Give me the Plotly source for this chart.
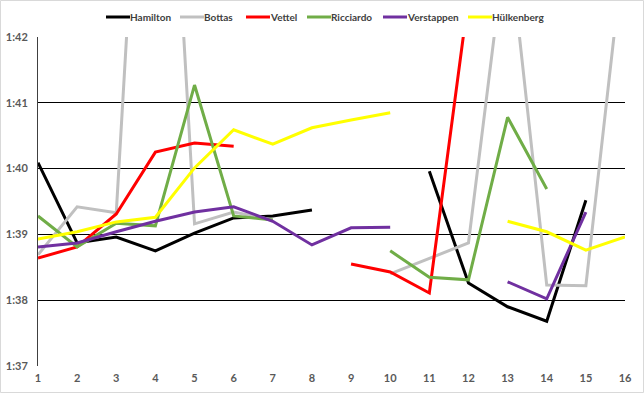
import plotly.graph_objects as go

laps = list(range(1, 17))
N = None
hamilton   = [100.09, 98.87, 98.96, 98.75, 99.02, 99.25, 99.28, 99.37, N, N, 99.96, 98.26, 97.90, 97.68, 99.52, N]
bottas     = [98.69, 99.42, 99.33, 109.5, 99.16, 99.34, 99.22, N, N, 98.40, 98.64, 98.87, 103.65, 98.23, 98.22, 103.5]
vettel     = [98.64, 98.81, 99.31, 100.25, 100.39, 100.34, N, N, 98.55, 98.43, 98.11, 102.6, N, N, N, N]
ricciardo  = [99.28, 98.81, 99.17, 99.13, 101.27, 99.28, 99.22, N, N, 98.75, 98.35, 98.31, 100.78, 99.69, N, N]
verstappen = [98.81, 98.87, 99.04, 99.20, 99.34, 99.42, 99.20, 98.84, 99.10, 99.11, N, N, 98.28, 98.02, 99.34, N]
hulkenberg = [98.93, 99.04, 99.19, 99.26, 100.01, 100.59, 100.37, 100.62, 100.74, 100.85, N, N, 99.20, 99.04, 98.76, 98.96]

names = ["Hamilton", "Bottas", "Vettel", "Ricciardo", "Verstappen", "Hülkenberg"]
series = [hamilton, bottas, vettel, ricciardo, verstappen, hulkenberg]
colors = ["#000000", "#c0c0c0", "#ff0000", "#70ad47", "#7030a0", "#ffff00"]

y_tickvals = [97, 98, 99, 100, 101, 102]
y_ticktext = ["1:37", "1:38", "1:39", "1:40", "1:41", "1:42"]

font_family = "Lato, DejaVu Sans Condensed, sans-serif"

W, H = 644, 393
ML, MR, MT, MB = 38, 19, 37, 27
PW, PH = W - ML - MR, H - MT - MB

def px_x(p):
    return (p - ML) / PW

def px_y(p):
    return 1 + (MT - p) / PH

# legend layout (pixel positions of each entry's swatch start)
legend_starts = [106, 180, 246, 307, 383, 468]
swatch_len = 24
legend_y = 17

fig = go.Figure()
for name, vals, col in zip(names, series, colors):
    fig.add_trace(go.Scatter(
        x=laps, y=vals, name=name, mode="lines",
        line=dict(color=col, width=3),
        connectgaps=False, showlegend=False,
    ))

shapes = [dict(type="rect", xref="paper", yref="paper",
               x0=px_x(0.5), x1=px_x(W - 0.5), y0=px_y(H - 0.5), y1=px_y(0.5),
               line=dict(color="#d9d9d9", width=1), layer="below")]
annotations = []
for name, col, xs in zip(names, colors, legend_starts):
    shapes.append(dict(type="line", xref="paper", yref="paper",
                       x0=px_x(xs), x1=px_x(xs + swatch_len),
                       y0=px_y(legend_y), y1=px_y(legend_y),
                       line=dict(color=col, width=3)))
    annotations.append(dict(xref="paper", yref="paper",
                            x=px_x(xs + swatch_len), y=px_y(legend_y),
                            xanchor="left", yanchor="middle", showarrow=False,
                            text=name, xshift=-2,
                            font=dict(family=font_family, size=10, color="#404040", weight="bold")))

fig.update_layout(
    width=W, height=H,
    margin=dict(l=ML, r=MR, t=MT, b=MB, autoexpand=False),
    paper_bgcolor="white", plot_bgcolor="white",
    showlegend=False,
    font=dict(family=font_family, size=11, color="#595959"),
    shapes=shapes, annotations=annotations,
)
fig.update_xaxes(
    range=[1, 16], tickmode="array", tickvals=laps,
    showgrid=False, zeroline=False,
    showline=False, ticks="", ticklabelstandoff=4,
    tickfont=dict(family=font_family, size=11, color="#595959", weight="bold"),
)
fig.update_yaxes(
    range=[97, 102], tickmode="array", tickvals=y_tickvals, ticktext=y_ticktext,
    showgrid=True, gridcolor="#000000", gridwidth=1,
    zeroline=False, showline=True, linecolor="#404040", linewidth=1,
    ticks="", ticklabelstandoff=7,
    tickfont=dict(family=font_family, size=11, color="#595959", weight="bold"),
)
fig.write_html("out.html", config={"displayModeBar": False},
               post_script="document.body.style.margin='0';document.body.style.overflow='hidden';")
